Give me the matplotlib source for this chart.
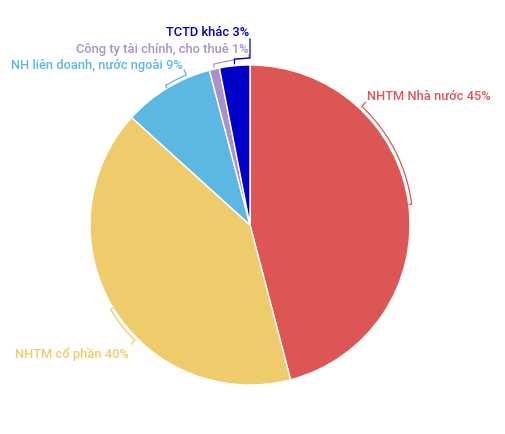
import numpy as np
import matplotlib.pyplot as plt

labels = ["NHTM Nhà nước", "NHTM cổ phần", "NH liên doanh, nước ngoài",
          "Công ty tài chính, cho thuê", "TCTD khác"]
values = [45, 40, 9, 1, 3]
colors = ["#DC5656", "#EECB6B", "#5DB7E3", "#A991CC", "#0000C8"]

W, H = 506, 434
cx, cy, R = 250, H - 225, 160

fig = plt.figure(figsize=(W / 100, H / 100), dpi=100)
ax = fig.add_axes([0, 0, 1, 1])

ax.pie(values, colors=colors, startangle=90, counterclock=False,
       radius=R, center=(cx, cy),
       wedgeprops=dict(edgecolor="white", linewidth=1))
ax.set_xlim(0, W)
ax.set_ylim(0, H)
ax.set_aspect("equal")
ax.axis("off")

# mid angle of each slice (degrees, standard orientation, 0..360)
frac = np.array(values) / sum(values)
ends = 90 - np.cumsum(frac) * 360
mids = (ends + frac * 180) % 360


def P(ang, r):
    a = np.radians(ang)
    return cx + r * np.cos(a), cy + r * np.sin(a)


def bracket(mid, end, color, r=163):
    # small tick toward the pie, arc along the edge, tick out to the label
    angs = np.linspace(mid, end, 40)
    pts = [P(mid, r - 3)] + [P(a, r) for a in angs] + [P(end, r + 6)]
    xs, ys = zip(*pts)
    ax.plot(xs, ys, color=color, lw=0.9, solid_capstyle="butt")


bracket(mids[0], 46.7, colors[0])
bracket(mids[1], 225.0, colors[1])
bracket(mids[2], 113.0, colors[2])

# the two thin slices get elbow leaders
x0, y0 = P(mids[3], 162)
ax.plot([x0, x0, 233, 249, 249], [y0, H - 64, H - 60, H - 58, H - 55],
        color=colors[3], lw=0.9)
x0, y0 = P(mids[4], 162)
ax.plot([x0, x0, 250, 250], [y0, H - 59, H - 58, H - 39],
        color=colors[4], lw=0.9)

font = dict(family="Roboto", fontsize=9.25, fontweight="medium", va="center")
pct = ["%d%%" % v for v in values]
ax.text(367, H - 97, f"{labels[0]} {pct[0]}", color=colors[0], ha="left", **font)
ax.text(129, H - 354, f"{labels[1]} {pct[1]}", color=colors[1], ha="right", **font)
ax.text(183, H - 66, f"{labels[2]} {pct[2]}", color=colors[2], ha="right", **font)
ax.text(249, H - 49, f"{labels[3]} {pct[3]}", color=colors[3], ha="right", **font)
ax.text(249, H - 33, f"{labels[4]} {pct[4]}", color=colors[4], ha="right", **font)

fig.savefig("out.png", dpi=100)
